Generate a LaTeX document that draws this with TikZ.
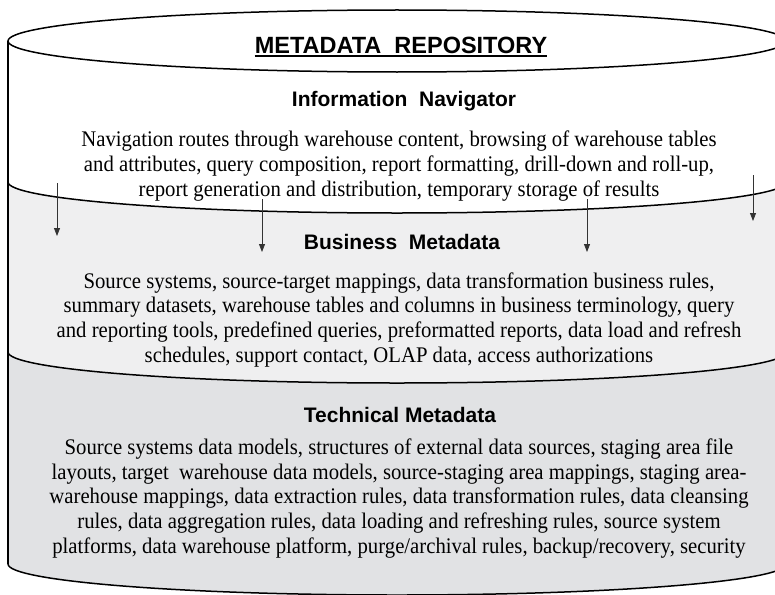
\documentclass[tikz,border=0pt]{standalone}
\usepackage{fontspec}
\setmainfont{Liberation Serif}[FakeStretch=0.93]
\newfontfamily\headfont{Liberation Sans}
\usetikzlibrary{arrows.meta,calc}
\definecolor{bandtwo}{RGB}{239,239,240}
\definecolor{bandthree}{RGB}{225,226,228}
\begin{document}
\begin{tikzpicture}[x=1pt,y=-1pt,
  outline/.style={line width=1.5pt,black},
  bodytext/.style={anchor=base,inner sep=0pt,align=center,
    font=\fontsize{22.3}{24.6}\selectfont},
  headtext/.style={anchor=base,inner sep=0pt,font=\headfont\bfseries\fontsize{21}{24}\selectfont},
  flowarrow/.style={line width=0.8pt,black!80,-{Triangle[length=8pt,width=6pt]}}]
\useasboundingbox (0,0) rectangle (775,594);
\clip (0,0) rectangle (775,594);
% fills
\fill[bandthree] (8,352) -- (8,564) arc[start angle=180,end angle=0,x radius=389,y radius=31]
  -- (786,352) arc[start angle=0,end angle=180,x radius=389,y radius=31] -- cycle;
\fill[bandtwo] (8,182) -- (8,352) arc[start angle=180,end angle=0,x radius=389,y radius=31]
  -- (786,182) arc[start angle=0,end angle=180,x radius=389,y radius=31] -- cycle;
% outline
\draw[outline] (397,41) ellipse[x radius=389,y radius=31];
\draw[outline] (8,41) -- (8,564);
\draw[outline] (786,41) -- (786,564);
\draw[outline] (8,182) arc[start angle=180,end angle=0,x radius=389,y radius=31];
\draw[outline] (8,352) arc[start angle=180,end angle=0,x radius=389,y radius=31];
\draw[outline] (8,564) arc[start angle=180,end angle=0,x radius=389,y radius=31];
% title
\node[anchor=base,inner sep=0pt,font=\headfont\bfseries\fontsize{23.5}{26}\selectfont] (title) at (401,53) {METADATA\ \ REPOSITORY};
\draw[line width=1.5pt] ($(title.base west)+(0,3)$) -- ($(title.base east)+(0,3)$);
% information navigator
\node[headtext] (infohead) at (404,106) {Information\ \ Navigator};
\node[bodytext] (infotext) at (399,196) {Navigation routes through warehouse content, browsing of warehouse tables\\
and attributes, query composition, report formatting, drill-down and roll-up,\\
report generation and distribution, temporary storage of results};
% business
\node[headtext] (bushead) at (402,249) {Business\ \ Metadata};
\node[bodytext] (bustext) at (399,362) {Source systems, source-target mappings, data transformation business rules,\\
summary datasets, warehouse tables and columns in business terminology, query\\
and reporting tools, predefined queries, preformatted reports, data load and refresh\\
schedules, support contact, OLAP data, access authorizations};
% technical
\node[headtext] (techhead) at (400,422) {Technical Metadata};
\node[bodytext] (techtext) at (399,553) {Source systems data models, structures of external data sources, staging area file\\
layouts, target~ warehouse data models, source-staging area mappings, staging area-\\
warehouse mappings, data extraction rules, data transformation rules, data cleansing\\
rules, data aggregation rules, data loading and refreshing rules, source system\\
platforms, data warehouse platform, purge/archival rules, backup/recovery, security};
% arrows
\coordinate (a1s) at (57,183); \coordinate (a1e) at (57,236);
\coordinate (a2s) at (262,199); \coordinate (a2e) at (262,252);
\coordinate (a3s) at (587,199); \coordinate (a3e) at (587,252);
\coordinate (a4s) at (753,175); \coordinate (a4e) at (753,221);
\draw[flowarrow] (a1s) -- (a1e);
\draw[flowarrow] (a2s) -- (a2e);
\draw[flowarrow] (a3s) -- (a3e);
\draw[flowarrow] (a4s) -- (a4e);
\end{tikzpicture}
\end{document}
